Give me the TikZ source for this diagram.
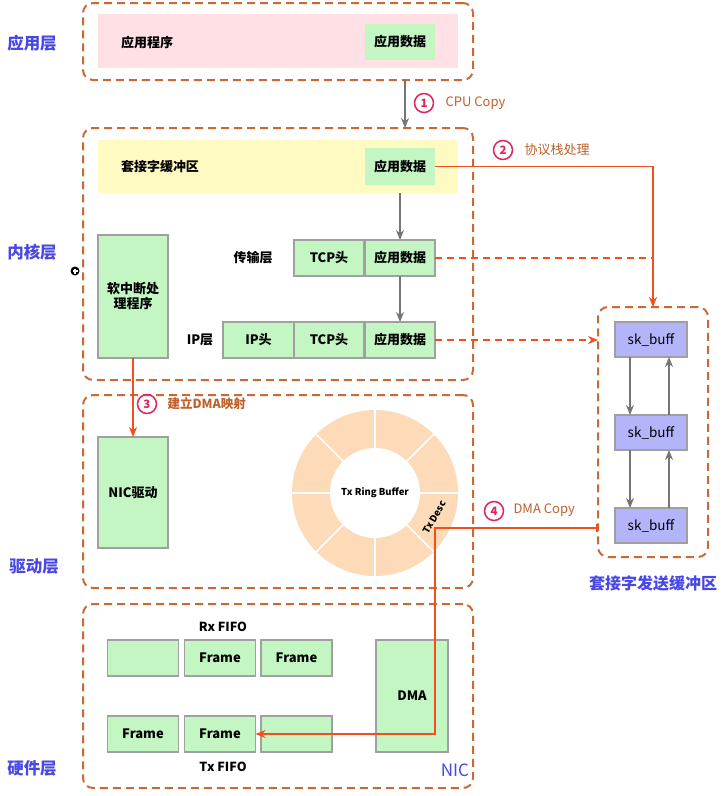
\documentclass[tikz,border=0pt]{standalone}
\usepackage{fontspec}
\setmainfont{Noto Sans CJK SC}
\usetikzlibrary{arrows.meta,calc}
\definecolor{frameor}{HTML}{C96A36}
\definecolor{redline}{HTML}{F24E1E}
\definecolor{numred}{HTML}{E0245E}
\definecolor{labbrown}{HTML}{C0602A}
\definecolor{layblue}{HTML}{4848E6}
\definecolor{gfill}{HTML}{C3F6C3}
\definecolor{gborder}{HTML}{A0A0A0}
\definecolor{pinkf}{HTML}{FEE0E5}
\definecolor{yellowf}{HTML}{FFFAC2}
\definecolor{lavf}{HTML}{B4B4FA}
\definecolor{peach}{HTML}{FDDAB8}
\definecolor{garrowc}{HTML}{757575}
\tikzset{
  frame/.style={draw=frameor, line width=2pt, dash pattern=on 8pt off 5pt, rounded corners=10pt, inner sep=0pt, outer sep=0pt},
  plainbox/.style={inner sep=0pt, outer sep=0pt},
  gbox/.style={fill=gfill, draw=gborder, line width=1.2pt, inner sep=0pt, outer sep=0pt, minimum width=70pt, minimum height=36pt, font=\fontsize{13}{15}\selectfont\bfseries},
  skbox/.style={fill=lavf, draw=gborder, line width=1.2pt, inner sep=0pt, outer sep=0pt, minimum width=72pt, minimum height=35pt, font=\fontsize{13.5}{15}\selectfont},
  laytext/.style={text=layblue, font=\fontsize{16.5}{18}\selectfont\bfseries},
  btext/.style={font=\fontsize{13}{15}\selectfont\bfseries},
  lbtext/.style={text=labbrown, font=\fontsize{13}{14}\selectfont},
  numc/.style={circle, draw=numred, line width=1.5pt, text=numred, minimum size=19pt, inner sep=0pt, font=\fontsize{11.5}{12}\selectfont\bfseries},
  garrow/.style={draw=garrowc, line width=1.8pt, -{Stealth[length=10pt,width=8pt]}},
  rarrow/.style={draw=redline, line width=1.6pt},
}
\begin{document}
\begin{tikzpicture}[x=1pt,y=-1pt]
\useasboundingbox[fill=white] (0,0) rectangle (726,796);

% layer labels
\node[laytext] (lapp) at (32,43) {应用层};
\node[laytext] (lker) at (32,252) {内核层};
\node[laytext] (ldrv) at (34,566) {驱动层};
\node[laytext] (lhw) at (32,768) {硬件层};

% small icon
\node[circle, fill=black, minimum size=9pt, inner sep=0pt] (icon) at (75,271) {};
\draw[white, line width=1.2pt] ([xshift=-2.5pt]icon.center) -- ([xshift=2.5pt]icon.center);
\draw[white, line width=1.2pt] ([yshift=-2.5pt]icon.center) -- ([yshift=2.5pt]icon.center);

% frames
\node[frame, minimum width=390pt, minimum height=77pt] (appL) at (278,41.5) {};
\node[frame, minimum width=390pt, minimum height=252pt] (kerL) at (278,254) {};
\node[frame, minimum width=390pt, minimum height=193pt] (drvL) at (278,491.5) {};
\node[frame, minimum width=390pt, minimum height=184pt] (hwL) at (278,696) {};
\node[frame, minimum width=110pt, minimum height=250pt] (sockL) at (653,432) {};

% application layer
\node[plainbox, fill=pinkf, minimum width=360pt, minimum height=54pt] (pink) at (278,41) {};
\node[btext] (appprog) at (147,43) {应用程序};
\node[gbox, draw=none] (appdata1) at (400,42) {应用数据};

% kernel
\node[plainbox, fill=yellowf, minimum width=360pt, minimum height=53pt] (yellow) at (278,166.5) {};
\node[btext] (sockbuf) at (160,167) {套接字缓冲区};
\node[gbox, draw=none, minimum height=37pt] (appdata2) at (400,166.5) {应用数据};

\node[btext] (translab) at (253,258) {传输层};
\node[gbox] (tcp1) at (329,258) {TCP头};
\node[gbox] (data3) at (400,258) {应用数据};

\node[btext] (iplab) at (200,340) {IP层};
\node[gbox, minimum width=71pt] (iphead) at (258.5,340) {IP头};
\node[gbox] (tcp2) at (329,340) {TCP头};
\node[gbox] (data4) at (400,340) {应用数据};

\node[gbox, minimum height=123pt, align=center] (softirq) at (133,296.5) {软中断处\\理程序};

% driver
\node[gbox, minimum height=111pt] (nicdrv) at (133,492.5) {NIC驱动};

% ring buffer
\coordinate (rc) at (375,493);
\fill[peach] (rc) circle (83pt);
\fill[white] (rc) circle (45pt);
\foreach \a in {0,45,...,315}
  \draw[white, line width=1.6pt] ($(rc)+(\a:44pt)$) -- ($(rc)+(\a:84pt)$);
\node[font=\fontsize{9.5}{11}\selectfont\bfseries] (ringlab) at (rc) {Tx Ring Buffer};
\node[font=\fontsize{9.5}{10}\selectfont\bfseries, rotate=60, inner sep=1pt] (txdesc) at ($(rc)+(-22.5:64pt)$) {Tx Desc};

% socket send buffer
\node[skbox] (sk1) at (651,339.5) {sk\_buff};
\node[skbox] (sk2) at (651,432.5) {sk\_buff};
\node[skbox] (sk3) at (651,525.5) {sk\_buff};
\node[text=layblue, font=\fontsize{16}{18}\selectfont\bfseries] (socklab) at (653,583) {套接字发送缓冲区};

% hardware
\node[btext, font=\fontsize{12.5}{14}\selectfont\bfseries] (rxlab) at (223,627) {Rx FIFO};
\node[gbox, minimum width=71pt] (rx1) at (143,658) {};
\node[gbox, minimum width=71pt] (rx2) at (220,658) {Frame};
\node[gbox, minimum width=71pt] (rx3) at (296.5,658) {Frame};
\node[gbox, minimum width=71pt] (tx1) at (143,734) {Frame};
\node[gbox, minimum width=71pt] (tx2) at (220,734) {Frame};
\node[gbox, minimum width=71pt] (tx3) at (296.5,734) {};
\node[btext, font=\fontsize{12.5}{14}\selectfont\bfseries] (txlab) at (223,767) {Tx FIFO};
\node[gbox, minimum width=72pt, minimum height=112pt] (dma) at (412,696) {DMA};
\node[text=layblue, font=\fontsize{17}{18}\selectfont] (niclab) at (455,770) {NIC};

% gray arrows
\coordinate (cpux) at (405,0);
\draw[garrow] (appL.south -| cpux) -- (kerL.north -| cpux);
\draw[garrow] (yellow.south -| data3) -- (data3.north);
\draw[garrow] (data3.south) -- (data4.north);
\draw[garrow] ([xshift=-21pt]sk1.south) -- ([xshift=-21pt]sk2.north);
\draw[garrow] ([xshift=18pt]sk2.north) -- ([xshift=18pt]sk1.south);
\draw[garrow] ([xshift=-21pt]sk2.south) -- ([xshift=-21pt]sk3.north);
\draw[garrow] ([xshift=18pt]sk3.north) -- ([xshift=18pt]sk2.south);

% step labels
\node[numc] (n1) at (424,103) {1};
\node[lbtext, anchor=west] (t1) at (442,103.5) {CPU Copy};
\node[numc] (n2) at (503,150) {2};
\node[lbtext, anchor=west] (t2) at (521,150) {协议栈处理};
\node[numc] (n3) at (147,404) {3};
\node[lbtext, anchor=west, font=\fontsize{12.5}{14}\selectfont\bfseries] (t3) at (164,404) {建立DMA映射};
\node[numc] (n4) at (494,511) {4};
\node[lbtext, anchor=west] (t4) at (510,510) {DMA Copy};

% red connectors
\draw[rarrow, -{Stealth[length=10pt,width=8pt]}] (appdata2.east) -| (sockL.north);
\draw[rarrow, dash pattern=on 7pt off 5pt] (data3.east) -- (data3.east -| sockL.north);
\draw[rarrow, dash pattern=on 7pt off 5pt, -{Stealth[length=10pt,width=8pt]}] (data4.east) -- (data4.east -| sockL.west);
\draw[rarrow, -{Stealth[length=10pt,width=8pt]}] (softirq.south) -- (nicdrv.north);
\coordinate (d4) at (435,528);
\draw[rarrow, {Bar[width=8pt]}-{Stealth[length=10pt,width=8pt]}] (sockL.west |- d4) -- (d4) |- (tx2.east);
\end{tikzpicture}
\end{document}
